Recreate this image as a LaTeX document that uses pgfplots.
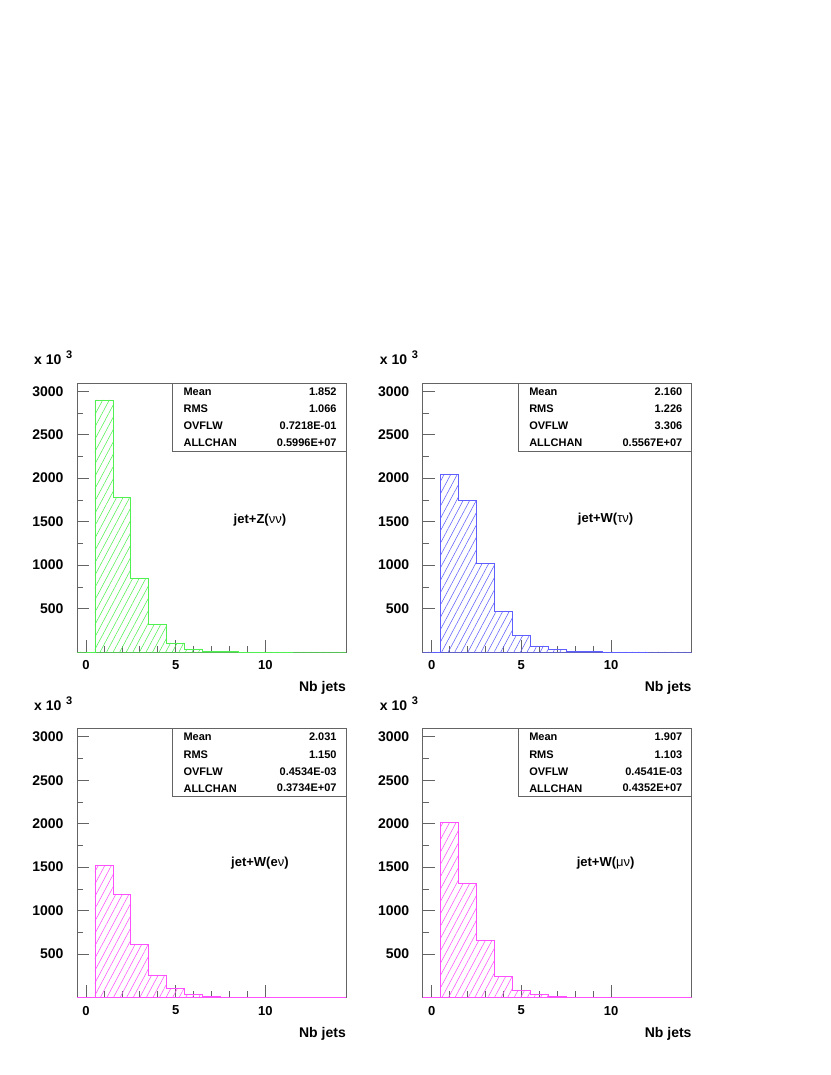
\documentclass[border=0pt]{standalone}
\usepackage{fontspec}
\setmainfont{Liberation Sans}
\usepackage{pgfplots}
\pgfplotsset{compat=1.18}
\usetikzlibrary{patterns.meta}

\definecolor{hgreen}{RGB}{80,240,80}
\definecolor{hblue}{RGB}{95,95,255}
\definecolor{hmag}{RGB}{255,80,255}
\definecolor{framegray}{RGB}{100,100,100}

\pgfplotsset{
  paw/.style={
    scale only axis, width=269pt, height=269pt, anchor=south west,
    xmin=-0.5, xmax=14.5, ymin=0, ymax=3095,
    xtick={0,5,10}, minor x tick num=4,
    ytick={500,1000,...,3000}, minor y tick num=1,
    tick align=inside, xtick pos=bottom, ytick pos=left,
    major tick length=12pt, minor tick length=6pt,
    tick style={framegray, line width=0.6pt},
    axis line style={framegray, line width=0.8pt},
    /pgf/number format/assume math mode=true,
    /pgf/number format/set thousands separator={},
    xticklabel style={font=\bfseries\fontsize{13}{15}\selectfont, yshift=-5pt},
    yticklabel style={font=\bfseries\fontsize{14}{16}\selectfont, xshift=-10pt},
    clip=false,
  },
  hist/.style={const plot, line width=0.7pt, draw=#1,
    pattern={Lines[angle=62,distance=5.8pt,line width=0.55pt]}, pattern color=#1},
}

% stats box, axis labels
\newcommand{\statfont}{\bfseries\fontsize{11}{13}\selectfont}
\newcommand{\statbox}[4]{%
  \draw[framegray, line width=0.8pt] (rel axis cs:0.356,1) -- (rel axis cs:0.356,0.747) -- (rel axis cs:1,0.747);
  \node[anchor=west, font=\statfont] at (rel axis cs:0.383,0.968) {Mean};
  \node[anchor=west, font=\statfont] at (rel axis cs:0.383,0.903) {RMS};
  \node[anchor=west, font=\statfont] at (rel axis cs:0.383,0.840) {OVFLW};
  \node[anchor=west, font=\statfont] at (rel axis cs:0.383,0.778) {ALLCHAN};
  \node[anchor=east, font=\statfont] at (rel axis cs:0.978,0.968) {#1};
  \node[anchor=east, font=\statfont] at (rel axis cs:0.978,0.903) {#2};
  \node[anchor=east, font=\statfont] at (rel axis cs:0.978,0.840) {#3};
  \node[anchor=east, font=\statfont] at (rel axis cs:0.978,0.778) {#4};
  \node[anchor=base west, inner sep=0pt, font=\bfseries\fontsize{14}{16}\selectfont] at (rel axis cs:0,1) [xshift=-43pt, yshift=18pt] {x 10\,\,\raisebox{6pt}{\fontsize{11}{13}\selectfont 3}};
  \node[anchor=base east, inner sep=0pt, font=\bfseries\fontsize{14}{16}\selectfont] at (rel axis cs:1,0) [yshift=-40pt] {Nb jets};
}

\begin{document}
\begin{tikzpicture}
\path[use as bounding box] (0pt,0pt) rectangle (830pt,1075pt);

% jet+Z(nu nu)
\begin{axis}[paw, at={(77pt,423pt)}]
\addplot[hist=hgreen] coordinates {
  (-0.5,0) (0.5,2900) (1.5,1780) (2.5,850) (3.5,315) (4.5,105) (5.5,35) (6.5,10) (7.5,3) (8.5,0) (14.5,0)
} \closedcycle;
\statbox{1.852}{1.066}{0.7218E-01}{0.5996E+07}
\node[font=\bfseries\fontsize{13}{15}\selectfont] at (axis cs:9.7,1520) {jet+Z({\mdseries νν})};
\end{axis}

% jet+W(tau nu)
\begin{axis}[paw, at={(422.7pt,423pt)}]
\addplot[hist=hblue] coordinates {
  (-0.5,0) (0.5,2040) (1.5,1745) (2.5,1020) (3.5,465) (4.5,188) (5.5,70) (6.5,25) (7.5,10) (8.5,4) (9.5,0) (14.5,0)
} \closedcycle;
\statbox{2.160}{1.226}{3.306}{0.5567E+07}
\node[font=\bfseries\fontsize{13}{15}\selectfont] at (axis cs:9.7,1530) {jet+W({\mdseries τν})};
\end{axis}

% jet+W(e nu)
\begin{axis}[paw, at={(77pt,77.5pt)}]
\addplot[hist=hmag] coordinates {
  (-0.5,0) (0.5,1515) (1.5,1190) (2.5,615) (3.5,260) (4.5,100) (5.5,38) (6.5,12) (7.5,4) (8.5,0) (14.5,0)
} \closedcycle;
\statbox{2.031}{1.150}{0.4534E-03}{0.3734E+07}
\node[font=\bfseries\fontsize{13}{15}\selectfont] at (axis cs:9.7,1545) {jet+W(e{\mdseries ν})};
\end{axis}

% jet+W(mu nu)
\begin{axis}[paw, at={(422.7pt,77.5pt)}]
\addplot[hist=hmag] coordinates {
  (-0.5,0) (0.5,2010) (1.5,1315) (2.5,655) (3.5,240) (4.5,88) (5.5,32) (6.5,10) (7.5,2) (8.5,0) (14.5,0)
} \closedcycle;
\statbox{1.907}{1.103}{0.4541E-03}{0.4352E+07}
\node[font=\bfseries\fontsize{13}{15}\selectfont] at (axis cs:9.7,1545) {jet+W({\mdseries μν})};
\end{axis}
\end{tikzpicture}
\end{document}
